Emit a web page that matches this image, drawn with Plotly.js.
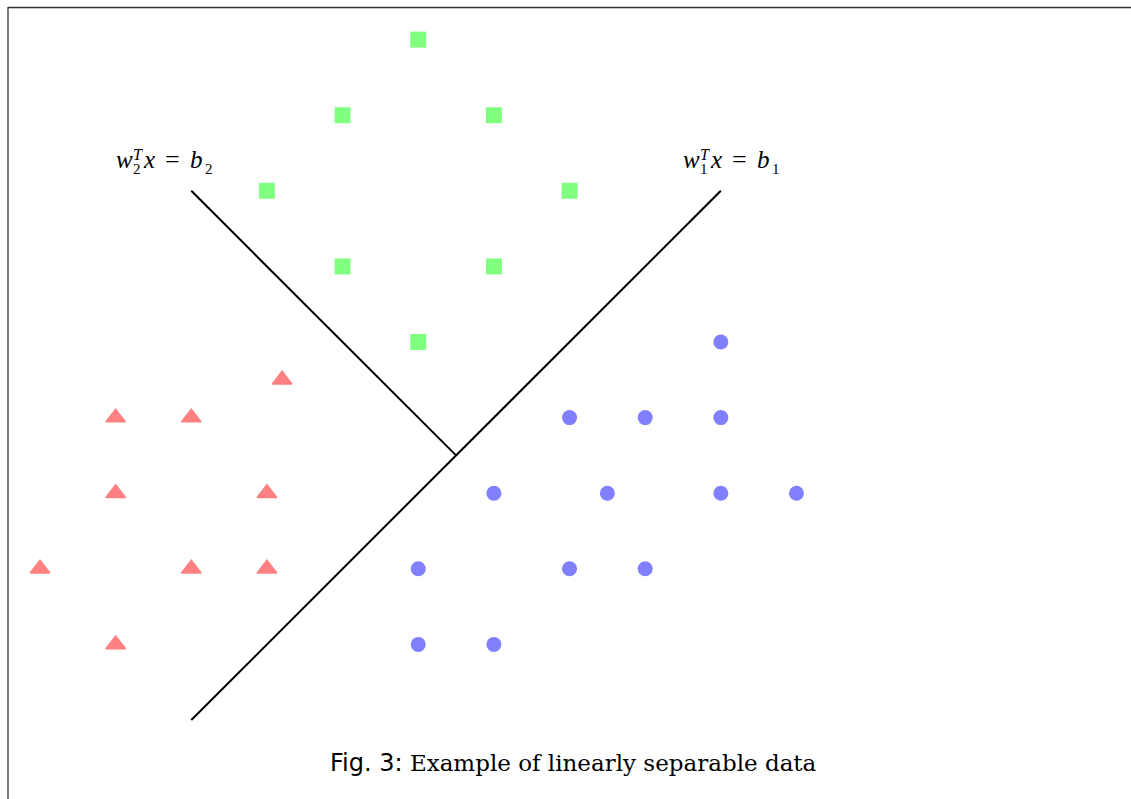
<!DOCTYPE html>
<html><head><meta charset="utf-8">
<script src="https://cdn.plot.ly/plotly-3.0.1.min.js"></script>
<style>html,body{margin:0;padding:0;background:#fff;}#chart{width:1131px;height:799px;}</style>
</head><body><div id="chart"></div>
<script>
// class 1: green squares
const squareX = [5, 4, 6, 3, 7, 4, 6, 5];
const squareY = [9, 8, 8, 7, 7, 6, 6, 5];
// class 2: red triangles
const triX = [3.2, 1, 2, 1, 3, 0, 2, 3, 1];
const triY = [4.5, 4, 4, 3, 3, 2, 2, 2, 1];
// class 3: blue circles
const circX = [9, 7, 8, 9, 6, 7.5, 9, 10, 5, 7, 8, 5, 6];
const circY = [5, 4, 4, 4, 3, 3, 3, 3, 2, 2, 2, 1, 1];
// decision lines
const line1X = [2, 9];
const line1Y = [0, 7];
const line2X = [2, 5.5];
const line2Y = [7, 3.5];
// line labels: w_i^T x = b_i
const labelIndex = ['1', '2'];

const traces = [
  {x: line1X, y: line1Y, mode: 'lines', line: {color: '#000', width: 2}, hoverinfo: 'skip'},
  {x: line2X, y: line2Y, mode: 'lines', line: {color: '#000', width: 2}, hoverinfo: 'skip'},
  {x: squareX, y: squareY, mode: 'markers', marker: {symbol: 'square', size: 16, color: '#80ff80'}},
  {x: triX, y: triY, mode: 'markers', marker: {symbol: 'triangle-up', size: 17, color: '#ff8080', line: {width: 1.5, color: '#ff8080'}}},
  {x: circX, y: circY, mode: 'markers', marker: {symbol: 'circle', size: 15, color: '#8080ff'}}
];

const serif = 'Liberation Serif';
const px2x = p => (p - 40) / 75.65;
const py2y = p => (720 - p) / 75.6;
function piece(left, baseline, text, size) {
  return {x: px2x(left), y: py2y(baseline + 0.216 * size), xref: 'x', yref: 'y', showarrow: false,
    xanchor: 'left', yanchor: 'bottom', borderpad: 0, borderwidth: 0,
    text: text, font: {family: serif, size: size, color: '#000'}};
}
function label(x0, idx) {
  // x0: left pixel of the "w"; offsets relative to it
  return [
    piece(x0 - 1, 168, '<i>w</i>', 25),
    piece(x0 + 16, 160, '<i>T</i>', 16),
    piece(x0 + 16, 174, idx, 15),
    piece(x0 + 26, 168, '<i>x</i>', 25),
    piece(x0 + 48, 168, '=', 26),
    piece(x0 + 73, 168, '<i>b</i>', 25),
    piece(x0 + 88, 174, idx, 15)
  ];
}
const layout = {
  width: 1131, height: 799,
  margin: {l: 0, r: 0, t: 0, b: 0},
  paper_bgcolor: '#fff', plot_bgcolor: '#fff',
  showlegend: false,
  xaxis: {range: [-0.5288, 14.422], visible: false, fixedrange: true},
  yaxis: {range: [-1.045, 9.524], visible: false, fixedrange: true},
  shapes: [
    {type: 'line', xref: 'paper', yref: 'paper', x0: 8/1131, x1: 1, y0: 1 - 7.5/799, y1: 1 - 7.5/799, line: {color: '#333', width: 1.3}},
    {type: 'line', xref: 'paper', yref: 'paper', x0: 8/1131, x1: 8/1131, y0: 0, y1: 1 - 7/799, line: {color: '#333', width: 1.3}}
  ],
  annotations: [
    ...label(684, labelIndex[0]),
    ...label(117, labelIndex[1]),
    {x: 573/1131, y: 1 - 763/799, xref: 'paper', yref: 'paper', showarrow: false, xanchor: 'center', yanchor: 'middle',
     text: '<span style="font-family:DejaVu Sans;font-size:24px">Fig. 3:</span> Example of linearly separable data',
     font: {family: 'DejaVu Serif', size: 23, color: '#000'}}
  ]
};
Plotly.newPlot('chart', traces, layout, {staticPlot: true, displayModeBar: false});
</script></body></html>
